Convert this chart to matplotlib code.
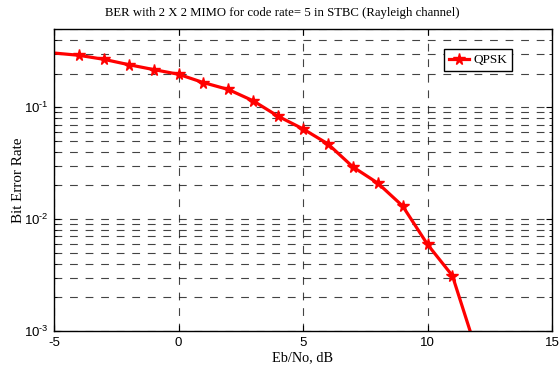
import matplotlib
matplotlib.use("Agg")
import matplotlib.pyplot as plt
from matplotlib.ticker import LogLocator, FixedLocator, FuncFormatter
import math

plt.rcParams["axes.unicode_minus"] = False
plt.rcParams["mathtext.fontset"] = "custom"
plt.rcParams["mathtext.rm"] = "Liberation Sans"
plt.rcParams["mathtext.it"] = "Liberation Sans:italic"
plt.rcParams["mathtext.default"] = "rm"

# Simulated BER of QPSK over 2x2 STBC, Rayleigh fading
ebno_db = [-5, -4, -3, -2, -1, 0, 1, 2, 3, 4, 5, 6, 7, 8, 9, 10, 11, 12]
ber_qpsk = [0.305, 0.291, 0.268, 0.240, 0.217, 0.197, 0.166, 0.144, 0.114,
            0.083, 0.064, 0.047, 0.0293, 0.0210, 0.0131, 0.00594, 0.00312,
            0.00063]
x_ticks = [-5, 0, 5, 10, 15]

serif = ["Liberation Serif", "DejaVu Serif"]
sans = ["Liberation Sans", "DejaVu Sans"]


def decade_label(v, pos):
    e = int(round(math.log10(v)))
    sign = r"\text{-}" if e < 0 else ""
    return r"$10^{%s%d}$" % (sign, abs(e))


fig = plt.figure(figsize=(5.59, 3.67), dpi=100)
ax = fig.add_axes([54 / 559, 1 - 331 / 367, 498 / 559, 302 / 367])

ax.semilogy(ebno_db, ber_qpsk, color="red", linewidth=2.3, marker="*",
            markersize=8.5, markevery=list(range(1, len(ebno_db))),
            label="QPSK")

ax.set_xlim(-5, 15)
ax.set_ylim(1e-3, 0.5)
ax.xaxis.set_major_locator(FixedLocator(x_ticks))
ax.yaxis.set_major_locator(LogLocator(base=10))
ax.yaxis.set_minor_locator(LogLocator(base=10, subs=range(2, 10)))
ax.yaxis.set_major_formatter(FuncFormatter(decade_label))

grid_kw = dict(color="#222222", linestyle=(0, (7.0, 7.0)), linewidth=0.8,
               alpha=0.85)
ax.grid(True, which="major", axis="both", **grid_kw)
ax.grid(True, which="minor", axis="y", **grid_kw)

ax.tick_params(which="both", direction="in", top=True, right=True,
               labelsize=9.5, length=4.5, pad=4)
ax.tick_params(which="minor", length=2.5)
for lbl in ax.get_xticklabels() + ax.get_yticklabels():
    lbl.set_family(sans)

for s in ax.spines.values():
    s.set_linewidth(1.0)

fig.text(282 / 559, 1 - 13 / 367,
         "BER with 2 X 2 MIMO for code rate= 5 in STBC (Rayleigh channel)",
         family=serif, fontsize=9.2, ha="center", va="center")
ax.set_xlabel("Eb/No, dB", family=serif, fontsize=10.3, labelpad=2)
ax.set_ylabel("Bit Error Rate", family=serif, fontsize=10.8)
ax.yaxis.set_label_coords(-0.059, 0.5)

leg = ax.legend(loc="upper right", bbox_to_anchor=(0.92, 0.935),
                prop={"family": serif, "size": 9.5}, fancybox=False,
                framealpha=1, edgecolor="black", handlelength=1.5,
                borderpad=0.4, handletextpad=0.3, borderaxespad=0)
leg.get_frame().set_linewidth(1.0)

fig.savefig("out.png", dpi=100)
